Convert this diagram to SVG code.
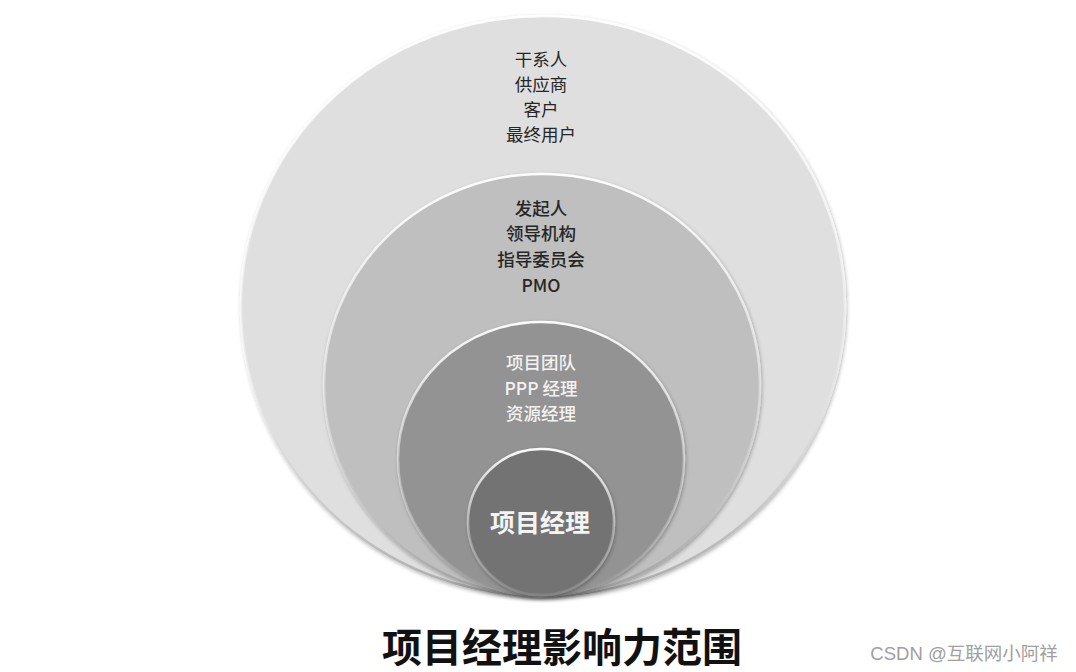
<svg xmlns="http://www.w3.org/2000/svg" width="1076" height="672" viewBox="0 0 1076 672">
<defs>
<linearGradient id="rim" x1="0" y1="0" x2="0" y2="1">
<stop offset="0" stop-color="#ffffff" stop-opacity="0.95"/>
<stop offset="0.6" stop-color="#ffffff" stop-opacity="0.3"/>
<stop offset="1" stop-color="#8a8a8a" stop-opacity="0.6"/>
</linearGradient>
<filter id="sh" x="-10%" y="-10%" width="120%" height="120%">
<feGaussianBlur in="SourceAlpha" stdDeviation="2"/>
<feOffset dx="1" dy="2" result="b"/>
<feComponentTransfer><feFuncA type="linear" slope="0.35"/></feComponentTransfer>
<feMerge><feMergeNode/><feMergeNode in="SourceGraphic"/></feMerge>
</filter>
</defs>
<style>
text{font-family:"Noto Sans CJK SC","Noto Sans",sans-serif;text-anchor:middle}
.c{stroke:url(#rim);stroke-width:2.5;filter:url(#sh)}
.dk{fill:#262626;font-size:17.5px}
.md{fill:#262626;font-size:17.5px;font-weight:500}
.lt{fill:#f2f2f2;font-size:17.5px;font-weight:500}
</style>
<rect width="1076" height="672" fill="#ffffff"/>
<g id="stakeholders">
<ellipse class="c" cx="543" cy="306" rx="302" ry="290" fill="#dfdfdf"/>
<text class="dk" x="541" y="66">干系人</text>
<text class="dk" x="541" y="91">供应商</text>
<text class="dk" x="541" y="116">客户</text>
<text class="dk" x="541" y="141">最终用户</text>
</g>
<g id="sponsors">
<ellipse class="c" cx="542" cy="385" rx="218" ry="211" fill="#bfbfbf"/>
<text class="md" x="541" y="215">发起人</text>
<text class="md" x="541" y="240">领导机构</text>
<text class="md" x="541" y="266">指导委员会</text>
<text class="md" x="541" y="292" font-weight="600">PMO</text>
</g>
<g id="team">
<ellipse class="c" cx="541" cy="459" rx="143" ry="137" fill="#939393"/>
<text class="lt" x="541" y="369">项目团队</text>
<text class="lt" x="541" y="395">PPP 经理</text>
<text class="lt" x="541" y="420">资源经理</text>
</g>
<g id="pm">
<ellipse class="c" cx="541" cy="522" rx="73" ry="73" fill="#737373"/>
<text x="540" y="532" fill="#f4f4f4" font-size="25" font-weight="bold">项目经理</text>
</g>
<g id="connectors"/>
<text x="562" y="662" fill="#111111" font-size="40" font-weight="bold">项目经理影响力范围</text>
<text x="964" y="660" fill="#a0a0a0" font-size="18.5" style="font-family:'Liberation Sans','Noto Sans CJK SC',sans-serif">CSDN @互联网小阿祥</text>
</svg>
